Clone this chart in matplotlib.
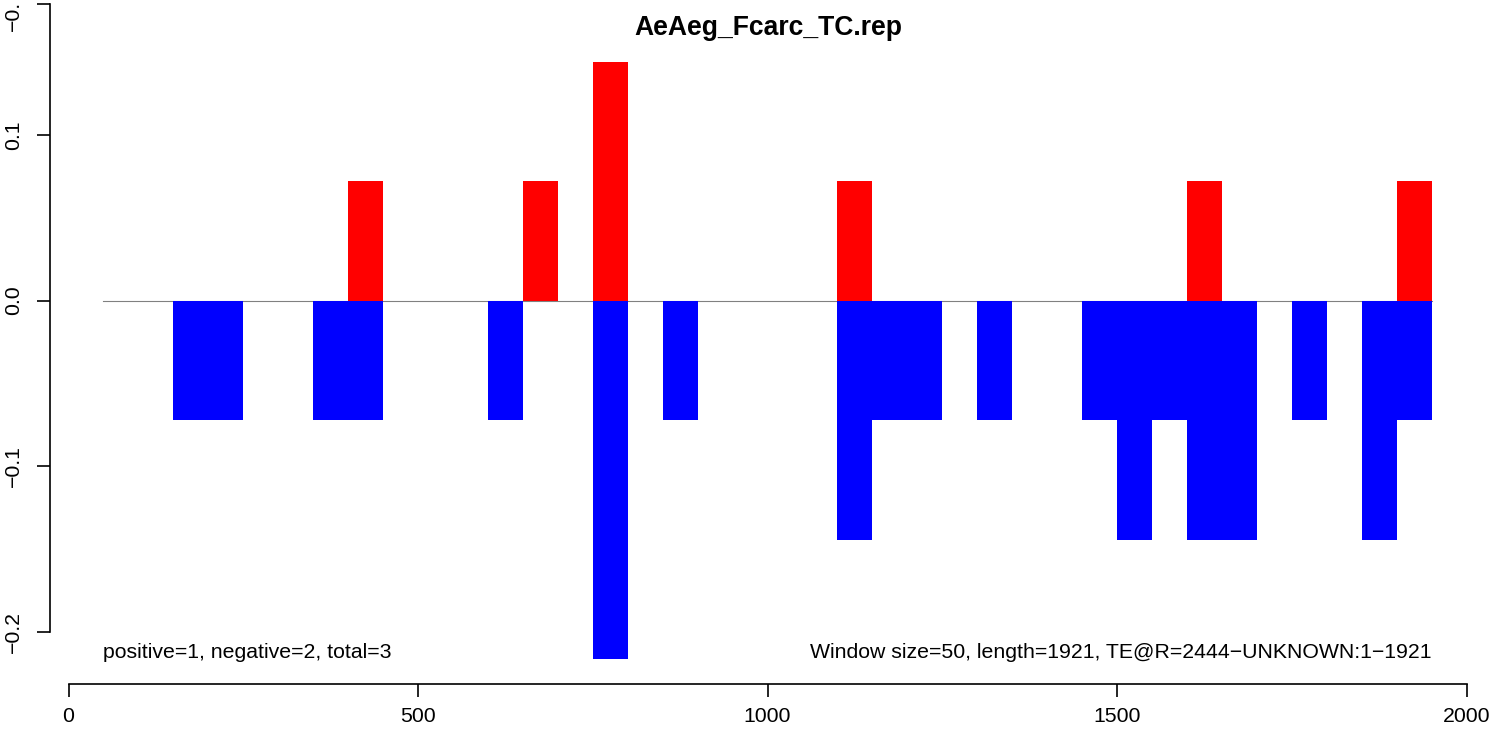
import matplotlib
matplotlib.use("Agg")
import matplotlib.pyplot as plt

plt.rcParams['font.family'] = ['Liberation Sans', 'DejaVu Sans']

# ---- data ----
title = "AeAeg_Fcarc_TC.rep"
window_size = 50
pos_starts = [400, 650, 750, 1100, 1600, 1900]
pos_values = [0.0722, 0.0722, 0.1444, 0.0722, 0.0722, 0.0722]
neg_starts = [150, 200, 350, 400, 600, 750, 850, 1100, 1150, 1200, 1300,
              1450, 1500, 1550, 1600, 1650, 1750, 1850, 1900]
neg_values = [-0.0722, -0.0722, -0.0722, -0.0722, -0.0722, -0.2166, -0.0722,
              -0.1444, -0.0722, -0.0722, -0.0722, -0.0722, -0.1444, -0.0722,
              -0.1444, -0.1444, -0.0722, -0.1444, -0.0722]
baseline_range = [50, 1950]
x_ticks = [0, 500, 1000, 1500, 2000]
x_ticklabels = ["0", "500", "1000", "1500", "2000"]
y_ticks = [-0.2, -0.1, 0.0, 0.1]
y_ticklabels = ["\u22120.2", "\u22120.1", "0.0", "0.1"]
left_note = "positive=1, negative=2, total=3"
right_note = "Window size=50, length=1921, TE@R=2444\u2212UNKNOWN:1\u22121921"

# ---- layout (pixel geometry) ----
W, H = 1495, 731
fig = plt.figure(figsize=(W / 100, H / 100), dpi=100)
ax_left_px, ax_right_px, ax_top_px, ax_bot_px = 50, 1480, 4, 684
ax = fig.add_axes([ax_left_px / W, (H - ax_bot_px) / H,
                   (ax_right_px - ax_left_px) / W, (ax_bot_px - ax_top_px) / H])

x0px, xscale = 68.5, 0.699
y0px, yscale = 300.6, 1655.7
ax.set_xlim((ax_left_px - x0px) / xscale, (ax_right_px - x0px) / xscale)
ytop = (y0px - ax_top_px) / yscale
ax.set_ylim((y0px - ax_bot_px) / yscale, ytop)

ax.plot(baseline_range, [0, 0], color='#808080', lw=0.8, zorder=1)
ax.bar(neg_starts, neg_values, width=window_size, align='edge',
       color='#0000FF', linewidth=0, zorder=2)
ax.bar(pos_starts, pos_values, width=window_size, align='edge',
       color='#FF0000', linewidth=0, zorder=2)

for s in ['top', 'right']:
    ax.spines[s].set_visible(False)
ax.spines['left'].set_bounds(y_ticks[0], ytop)
ax.spines['bottom'].set_bounds(x_ticks[0], x_ticks[-1])
for s in ['left', 'bottom']:
    ax.spines[s].set_linewidth(1.2)

fs = 15.3
ax.set_xticks(x_ticks)
ax.set_xticklabels(x_ticklabels)
ax.set_yticks(y_ticks + [ytop])
ax.set_yticklabels(y_ticklabels + [""])
ax.tick_params(axis='both', length=9.4, width=1.2, labelsize=fs)
ax.tick_params(axis='x', pad=7)
ax.tick_params(axis='y', pad=10)
for lbl in ax.get_yticklabels():
    lbl.set_rotation(90)
    lbl.set_va('center')

# clipped top tick label
fig.text(13 / W, (H - 31) / H, "\u22120.", rotation=90, ha='center',
         va='bottom', fontsize=fs)

fig.text(768 / W, (H - 28) / H, title, ha='center', va='center',
         fontsize=19.1, fontweight='bold')

ny = (y0px - 652) / yscale
ax.text(baseline_range[0], ny, left_note, ha='left', va='center', fontsize=fs)
ax.text(baseline_range[1], ny, right_note, ha='right', va='center', fontsize=fs)

fig.savefig("out.png", dpi=100)
